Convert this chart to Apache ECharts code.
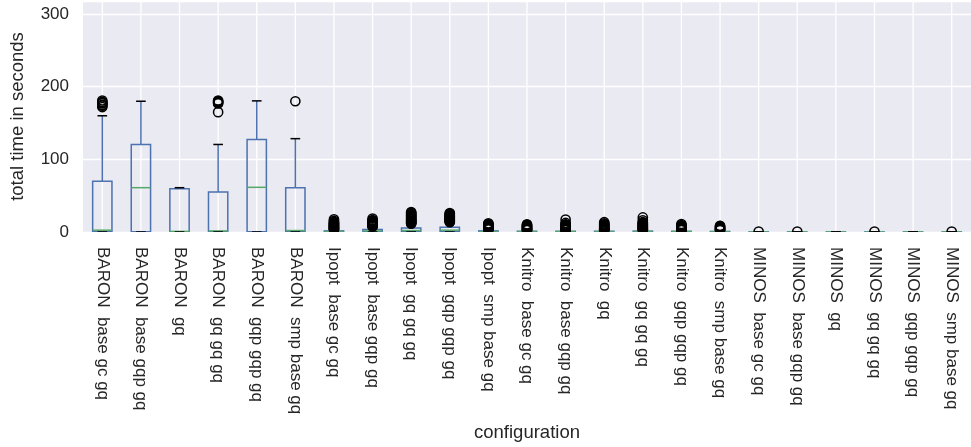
<!DOCTYPE html>
<html>
<head>
<meta charset="utf-8">
<script src="https://cdn.jsdelivr.net/npm/echarts@6/dist/echarts.min.js"></script>
<style>
  html, body { margin: 0; padding: 0; background: #ffffff; }
  #chart { width: 971px; height: 447px; }
</style>
</head>
<body>
<div id="chart"></div>
<script>
const categories = [
  'BARON  base gc gq', 'BARON  base gqp gq', 'BARON  gq', 'BARON  gq gq gq',
  'BARON  gqp gqp gq', 'BARON  smp base gq',
  'Ipopt  base gc gq', 'Ipopt  base gqp gq', 'Ipopt  gq gq gq', 'Ipopt  gqp gqp gq',
  'Ipopt  smp base gq',
  'Knitro  base gc gq', 'Knitro  base gqp gq', 'Knitro  gq', 'Knitro  gq gq gq',
  'Knitro  gqp gqp gq', 'Knitro  smp base gq',
  'MINOS  base gc gq', 'MINOS  base gqp gq', 'MINOS  gq', 'MINOS  gq gq gq',
  'MINOS  gqp gqp gq', 'MINOS  smp base gq'
];

// box statistics per category (seconds)
const lowWhisker    = [0, 0, 0, 0, 0, 0,   0, 0, 0, 0, 0,   0, 0, 0, 0, 0, 0,   0, 0, 0, 0, 0, 0];
const lowerQuartile = [0.5, 0.5, 0.3, 0.5, 0.5, 0.5,   0.2, 0.5, 0.5, 0.5, 0.2,   0.2, 0.2, 0.2, 0.2, 0.2, 0.1,   0, 0, 0, 0, 0, 0];
const medians       = [2.5, 61, 0.8, 1.5, 61.5, 2,   0.5, 1.5, 2, 2.5, 0.5,   0.5, 0.5, 0.5, 0.5, 0.5, 0.3,   0, 0, 0, 0, 0, 0];
const upperQuartile = [70, 120.5, 59.5, 55, 127.5, 61,   1.5, 3.5, 5.5, 6.5, 1.5,   1, 1, 1, 1.2, 1, 0.8,   0.1, 0.1, 0.1, 0.1, 0.1, 0.1];
const highWhisker   = [160, 180, 61, 120.5, 180.5, 128.5,   3, 7, 11, 13, 3,   2, 2, 2, 2.5, 2, 1.5,   0.2, 0.2, 0.1, 0.2, 0.1, 0.2];

const outliers = [
  [172, 174, 175, 177, 178, 179, 181],
  [],
  [],
  [165, 177, 178, 179, 180, 181],
  [],
  [180],
  [3.5, 4, 4.6, 5.2, 6, 6.7, 7.5, 8.2, 9, 9.8, 10.5, 11.3, 12, 13, 14, 15.5, 17.5],
  [7.5, 8, 8.6, 9.3, 10, 10.8, 11.5, 12.2, 13, 14, 15.2, 16.4, 18.5],
  [11.5, 12, 12.8, 13.5, 14.3, 15, 16, 17, 18, 19, 20, 21, 22, 23, 24, 25, 26.5, 27.5],
  [13.5, 14, 14.8, 15.5, 16.3, 17, 18, 18.8, 19.5, 20.3, 21, 22, 23, 24, 25, 26],
  [3.5, 4, 4.7, 5.5, 6.2, 7, 7.8, 8.5, 9.3, 10, 11, 12],
  [2.5, 3, 3.6, 4.3, 5, 5.8, 6.5, 7.3, 8, 9, 9.8, 10.5],
  [2.5, 3, 3.6, 4.3, 5, 5.8, 6.5, 7.3, 8, 9, 9.8, 10.5, 12.5, 17],
  [2.5, 3, 3.7, 4.5, 5.2, 6, 7, 7.8, 8.5, 9.5, 10.5, 12, 13.5],
  [3, 3.5, 4.2, 5, 5.8, 6.5, 7.3, 8, 9, 9.8, 10.5, 11.5, 12.5, 13.5, 16, 20],
  [2.5, 3, 3.6, 4.3, 5, 5.8, 6.6, 7.5, 8.5, 9.5, 11],
  [2.5, 3, 3.8, 4.5, 5.3, 6, 7, 8, 8.5],
  [0.5],
  [0.5],
  [],
  [0.5],
  [],
  [0.5]
];

const yTicks = [0, 100, 200, 300];

const BLUE = '#4C72B0';
const GREEN = '#55A868';
const TEXT = '#262626';
const FONT = 'Liberation Sans, Arial, sans-serif';

const boxData = categories.map((c, i) => [i, lowWhisker[i], lowerQuartile[i], medians[i], upperQuartile[i], highWhisker[i]]);
const flierData = [];
outliers.forEach((arr, i) => arr.forEach(v => flierData.push([i, v])));
const gridData = categories.map((c, i) => [i]);

function renderGridLine(params, api) {
  const i = api.value(0);
  const p = api.coord([i, 0]);
  const cs = params.coordSys;
  return {
    type: 'line',
    shape: { x1: p[0], y1: cs.y, x2: p[0], y2: cs.y + cs.height },
    style: { stroke: '#ffffff', lineWidth: 1.3 },
    silent: true
  };
}

function renderBox(params, api) {
  const i = api.value(0);
  const lo = api.coord([i, api.value(1)]);
  const q1 = api.coord([i, api.value(2)]);
  const med = api.coord([i, api.value(3)]);
  const q3 = api.coord([i, api.value(4)]);
  const hi = api.coord([i, api.value(5)]);
  const band = api.size([1, 0])[0];
  const bw = band * 0.5, cw = band * 0.25;
  const x = lo[0];
  const lw = 1.5;
  return {
    type: 'group',
    children: [
      { type: 'line', shape: { x1: x, y1: q3[1], x2: x, y2: hi[1] }, style: { stroke: BLUE, lineWidth: lw } },
      { type: 'line', shape: { x1: x, y1: q1[1], x2: x, y2: lo[1] }, style: { stroke: BLUE, lineWidth: lw } },
      { type: 'rect', shape: { x: x - bw / 2, y: q3[1], width: bw, height: q1[1] - q3[1] }, style: { fill: 'none', stroke: BLUE, lineWidth: lw } },
      { type: 'line', shape: { x1: x - bw / 2, y1: med[1], x2: x + bw / 2, y2: med[1] }, style: { stroke: GREEN, lineWidth: lw } },
      { type: 'line', shape: { x1: x - cw / 2, y1: hi[1], x2: x + cw / 2, y2: hi[1] }, style: { stroke: '#000', lineWidth: lw } },
      { type: 'line', shape: { x1: x - cw / 2, y1: lo[1], x2: x + cw / 2, y2: lo[1] }, style: { stroke: '#000', lineWidth: lw } }
    ]
  };
}

function renderFlier(params, api) {
  const p = api.coord([api.value(0), api.value(1)]);
  return {
    type: 'circle',
    shape: { cx: p[0], cy: p[1], r: 4.6 },
    style: { fill: 'none', stroke: '#000', lineWidth: 1.5 }
  };
}

const chart = echarts.init(document.getElementById('chart'), null, { renderer: 'canvas' });
chart.setOption({
  animation: false,
  backgroundColor: '#ffffff',
  grid: {
    left: 75, right: -8, top: 1, bottom: 214,
    show: true, backgroundColor: '#EAEAF2', borderWidth: 0
  },
  xAxis: {
    type: 'category',
    data: categories,
    boundaryGap: true,
    name: 'configuration',
    nameLocation: 'middle',
    nameGap: 191,
    nameTextStyle: { color: TEXT, fontSize: 18.5, fontFamily: FONT },
    axisLine: { show: false },
    axisTick: { show: false },
    axisLabel: { rotate: -90, interval: 0, margin: 15, color: TEXT, fontSize: 17, fontFamily: FONT },
    splitLine: { show: false }
  },
  yAxis: {
    type: 'value',
    min: 0,
    max: 318,
    interval: 100,
    name: 'total time in seconds',
    nameLocation: 'middle',
    nameGap: 56,
    nameTextStyle: { color: TEXT, fontSize: 18.5, fontFamily: FONT },
    axisLine: { show: false },
    axisTick: { show: false },
    axisLabel: {
      margin: 14, color: TEXT, fontSize: 17, fontFamily: FONT, showMaxLabel: false,
      formatter: v => (yTicks.indexOf(v) >= 0 ? String(v) : '')
    },
    splitLine: { show: true, lineStyle: { color: '#ffffff', width: 1.3 } }
  },
  series: [
    {
      type: 'custom',
      name: 'xgrid',
      renderItem: renderGridLine,
      data: gridData,
      encode: { x: 0 },
      silent: true,
      clip: true,
      z: 1
    },
    {
      type: 'custom',
      name: 'boxes',
      renderItem: renderBox,
      data: boxData,
      encode: { x: 0, y: [1, 2, 3, 4, 5] },
      clip: true,
      z: 2
    },
    {
      type: 'custom',
      name: 'fliers',
      renderItem: renderFlier,
      data: flierData,
      encode: { x: 0, y: 1 },
      clip: true,
      z: 3
    }
  ]
});
</script>
</body>
</html>
